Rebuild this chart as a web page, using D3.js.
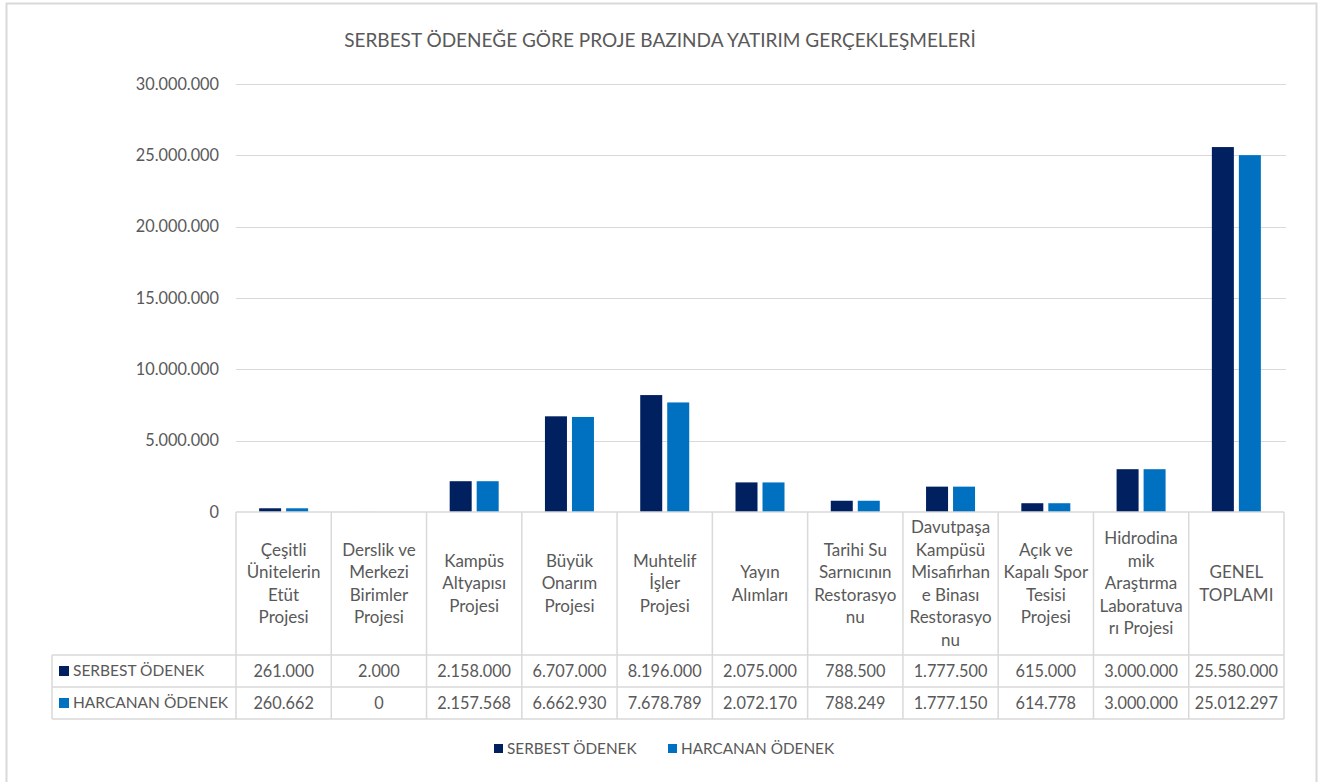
<!DOCTYPE html>
<html>
<head>
<meta charset="utf-8">
<script src="https://cdn.jsdelivr.net/npm/d3@7"></script>
<style>
  body { margin: 0; background: #fff; }
  svg text { font-family: Lato, "Open Sans", sans-serif; fill: #595959; }
</style>
</head>
<body>
<svg id="chart" width="1328" height="782"></svg>
<script>
// categories (line breaks as wrapped in the table header)
const categories = [
  "Çeşitli\nÜnitelerin\nEtüt\nProjesi",
  "Derslik ve\nMerkezi\nBirimler\nProjesi",
  "Kampüs\nAltyapısı\nProjesi",
  "Büyük\nOnarım\nProjesi",
  "Muhtelif\nİşler\nProjesi",
  "Yayın\nAlımları",
  "Tarihi Su\nSarnıcının\nRestorasyo\nnu",
  "Davutpaşa\nKampüsü\nMisafirhan\ne Binası\nRestorasyo\nnu",
  "Açık ve\nKapalı Spor\nTesisi\nProjesi",
  "Hidrodina\nmik\nAraştırma\nLaboratuva\nrı Projesi",
  "GENEL\nTOPLAMI"
]
const serbest = [261000, 2000, 2158000, 6707000, 8196000, 2075000, 788500, 1777500, 615000, 3000000, 25580000]
const harcanan = [260662, 0, 2157568, 6662930, 7678789, 2072170, 788249, 1777150, 614778, 3000000, 25012297]
const seriesNames = ["SERBEST ÖDENEK", "HARCANAN ÖDENEK"]
const yTicks = [0, 5000000, 10000000, 15000000, 20000000, 25000000, 30000000]
const title = "SERBEST ÖDENEĞE GÖRE PROJE BAZINDA YATIRIM GERÇEKLEŞMELERİ"

const color = d3.scaleOrdinal().domain(seriesNames).range(["#002060", "#0070C0"])
const series = [serbest, harcanan]

const plot = { left: 236, right: 1284, top: 84, bottom: 512 }
const tableLeft = 52
const headerBottom = 655
const rowH = 32
const grid = "#d9d9d9"

// turkish thousands separator
const fmt = d3.formatLocale({ decimal: ",", thousands: ".", grouping: [3], currency: ["", ""] }).format(",d")

const svg = d3.select("#chart")

// outer chart border
svg.append("rect")
  .attr("x", 6.5).attr("y", 3.5)
  .attr("width", 1310).attr("height", 800)
  .attr("fill", "#fff")
  .attr("stroke", grid)
  .attr("stroke-width", 2)

svg.append("text")
  .attr("x", 660).attr("y", 47)
  .attr("text-anchor", "middle")
  .style("font-size", "19px")
  .text(title)

const x = d3.scaleBand()
  .domain(d3.range(categories.length))
  .range([plot.left, plot.right])

const y = d3.scaleLinear()
  .domain([0, 30000000])
  .range([plot.bottom, plot.top])

// gridlines
svg.append("g")
  .selectAll("line")
  .data(yTicks.filter(d => d > 0))
  .join("line")
  .attr("x1", plot.left).attr("x2", plot.right + 2)
  .attr("y1", d => Math.round(y(d)) + 0.5)
  .attr("y2", d => Math.round(y(d)) + 0.5)
  .attr("stroke", grid)

// y axis labels
svg.append("g")
  .selectAll("text")
  .data(yTicks)
  .join("text")
  .attr("x", 219)
  .attr("y", d => y(d))
  .attr("dy", "0.35em")
  .attr("text-anchor", "end")
  .style("font-size", "16.3px")
  .text(d => fmt(d))

// bars
const barW = 22, barGap = 5
const xSub = d3.scaleBand().domain([0, 1])
  .range([0, barW * 2 + barGap])
  .paddingInner(barGap / (barW + barGap))

svg.append("g")
  .selectAll("g")
  .data(series)
  .join("g")
  .attr("fill", (d, i) => color(seriesNames[i]))
  .selectAll("rect")
  .data((d, si) => d.map((v, ci) => ({ v, ci, si })))
  .join("rect")
  .attr("x", d => x(d.ci) + (x.bandwidth() - (barW * 2 + barGap)) / 2 + xSub(d.si))
  .attr("width", xSub.bandwidth())
  .attr("y", d => y(d.v))
  .attr("height", d => y(0) - y(d.v))

// data table
const table = svg.append("g").attr("stroke", grid).attr("stroke-width", 1.5)
table.append("line")
  .attr("x1", plot.left).attr("x2", plot.right)
  .attr("y1", plot.bottom).attr("y2", plot.bottom)
for (let r = 0; r <= 2; r++) {
  table.append("line")
    .attr("x1", tableLeft).attr("x2", plot.right)
    .attr("y1", headerBottom + r * rowH).attr("y2", headerBottom + r * rowH)
}
table.append("line")
  .attr("x1", tableLeft).attr("x2", tableLeft)
  .attr("y1", headerBottom).attr("y2", headerBottom + 2 * rowH)
table.selectAll(".vline")
  .data(d3.range(categories.length + 1))
  .join("line")
  .attr("class", "vline")
  .attr("x1", d => d < categories.length ? x(d) : plot.right)
  .attr("x2", d => d < categories.length ? x(d) : plot.right)
  .attr("y1", plot.bottom).attr("y2", headerBottom + 2 * rowH)

// header labels
const lineH = 22.5
const headers = svg.append("g")
  .selectAll("text")
  .data(categories)
  .join("text")
  .attr("text-anchor", "middle")
  .style("font-size", "17px")
  .attr("transform", (d, i) => {
    const n = d.split("\n").length
    const cy = (plot.bottom + headerBottom) / 2 - (n - 1) * lineH / 2
    return `translate(${x(i) + x.bandwidth() / 2},${cy})`
  })
headers.selectAll("tspan")
  .data(d => d.split("\n"))
  .join("tspan")
  .attr("x", 0)
  .attr("y", (d, i) => i * lineH)
  .attr("dy", "0.35em")
  .text(d => d)

// value rows
series.forEach((vals, si) => {
  const rowY = headerBottom + si * rowH + rowH / 2
  svg.append("rect")
    .attr("x", 59).attr("y", rowY - 5)
    .attr("width", 10).attr("height", 10)
    .attr("fill", color(seriesNames[si]))
  svg.append("text")
    .attr("x", 73).attr("y", rowY).attr("dy", "0.35em")
    .style("font-size", "15.5px")
    .text(seriesNames[si])
  svg.append("g")
    .selectAll("text")
    .data(vals)
    .join("text")
    .attr("x", (d, i) => x(i) + x.bandwidth() / 2)
    .attr("y", rowY).attr("dy", "0.35em")
    .attr("text-anchor", "middle")
    .style("font-size", "16.3px")
    .text(d => fmt(d))
})

// bottom legend
const legend = svg.append("g").attr("transform", "translate(494,749)")
const legendX = [0, 174]
seriesNames.forEach((name, i) => {
  legend.append("rect")
    .attr("x", legendX[i]).attr("y", -5)
    .attr("width", 9).attr("height", 9)
    .attr("fill", color(name))
  legend.append("text")
    .attr("x", legendX[i] + 13).attr("y", 0).attr("dy", "0.35em")
    .style("font-size", "15.3px")
    .text(name)
})
</script>
</body>
</html>
